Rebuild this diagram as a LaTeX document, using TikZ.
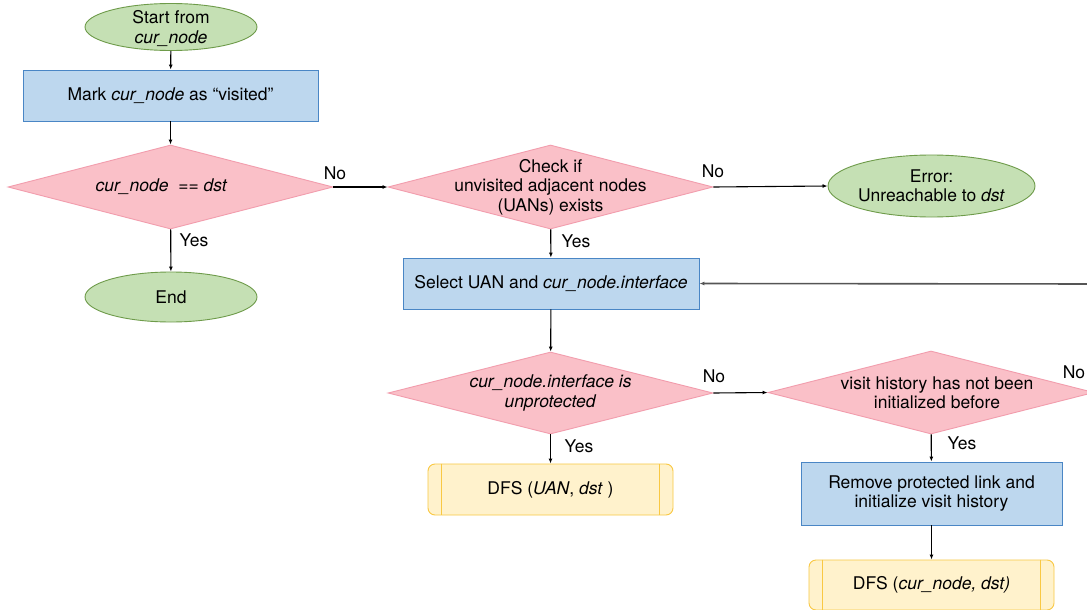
\documentclass[tikz,border=0pt]{standalone}
\usepackage{fontspec}
\setmainfont{TeX Gyre Heros}
\usetikzlibrary{shapes.geometric,arrows.meta,calc}

\definecolor{termfill}{HTML}{C5E0B4}
\definecolor{termline}{HTML}{6E9B4A}
\definecolor{procfill}{HTML}{BDD7EE}
\definecolor{procline}{HTML}{4A86C5}
\definecolor{decfill}{HTML}{FAC0C8}
\definecolor{decline}{HTML}{F29DAD}
\definecolor{subfill}{HTML}{FFF2CC}
\definecolor{subline}{HTML}{F9C843}
\definecolor{loopline}{HTML}{555555}

\tikzset{
  every node/.style={font=\fontsize{17.5}{19.5}\selectfont},
  term/.style={ellipse, draw=termline, fill=termfill, line width=0.9pt, inner sep=0pt},
  proc/.style={rectangle, draw=procline, fill=procfill, line width=0.9pt, inner sep=0pt, align=center},
  dec/.style={diamond, draw=decline, fill=decfill, line width=0.9pt, inner sep=0pt},
  subr/.style={rectangle, rounded corners=7pt, draw=subline, fill=subfill, line width=0.9pt, inner sep=0pt, align=center},
  inner/.style={align=center, inner sep=0pt},
  flow/.style={-{Latex[length=5pt,width=4pt]}, line width=1.1pt, black},
  back/.style={-{Latex[length=5pt,width=4pt]}, line width=1.6pt, loopline},
  tag/.style={inner sep=0pt},
}

\begin{document}
\begin{tikzpicture}[x=1pt, y=-1pt]
\useasboundingbox (0,0) rectangle (1087,610);
\fill[white] (0,0) rectangle (1087,610);
\clip (0,0) rectangle (1087,610);

% terminals
\node[term, minimum width=172pt, minimum height=47pt,
      label={[inner, yshift=-1.5pt]center:Start from\\\textit{cur\_node}}] (start) at (171,27) {};
\node[term, minimum width=172pt, minimum height=50pt,
      label={[inner]center:End}] (end) at (171,297) {};
\node[term, minimum width=207pt, minimum height=62pt,
      label={[inner]center:Error:\\Unreachable to \textit{dst}}] (err) at (931.5,186) {};

% processes
\node[proc, minimum width=295pt, minimum height=51pt] (mark) at (170.5,95.5)
  {Mark \textit{cur\_node} as “visited”};
\node[proc, minimum width=296pt, minimum height=51pt] (select) at (551,283.5)
  {Select UAN and \textit{cur\_node.interface}};
\node[proc, minimum width=261pt, minimum height=63pt] (remove) at (931.5,493.5)
  {Remove protected link and\\initialize visit history};

% decisions
\node[dec, minimum width=325pt, minimum height=84pt,
      label={[inner, xshift=-9pt]center:\textit{cur\_node}\ \ ==\ \textit{dst}}] (isdst) at (170.5,187) {};
\node[dec, minimum width=325pt, minimum height=84pt,
      label={[inner]center:Check if\\unvisited adjacent nodes\\(UANs) exists}] (uan) at (550.5,187) {};
\node[dec, minimum width=325pt, minimum height=82pt,
      label={[inner]center:\textit{cur\_node.interface is}\\\textit{unprotected}}] (prot) at (550.5,393) {};
\node[dec, minimum width=326pt, minimum height=83pt,
      label={[inner, xshift=6pt]center:visit history has not been\\initialized before}] (hist) at (931,392.5) {};

% subroutine calls
\node[subr, minimum width=245pt, minimum height=51pt] (dfsa) at (550.5,489.5)
  {DFS (\textit{UAN}, \textit{dst} )};
\node[subr, minimum width=245pt, minimum height=50pt] (dfsb) at (931.5,585)
  {DFS (\textit{cur\_node, dst)}};
\foreach \n in {dfsa,dfsb}{
  \draw[subline, line width=0.9pt] ($(\n.north west)+(14,0)$) -- ($(\n.south west)+(14,0)$);
  \draw[subline, line width=0.9pt] ($(\n.north east)+(-14,0)$) -- ($(\n.south east)+(-14,0)$);
}

% connectors
\draw[flow] (start) -- (mark);
\draw[flow] (mark) -- (isdst);
\draw[flow] (isdst) -- (end);
\draw[flow] (isdst.east) -- (uan.west);
\draw[flow] (uan.east) -- (err.west);
\draw[flow] (uan) -- (select);
\draw[flow] (select) -- (prot);
\draw[flow] (prot.east) -- (hist.west);
\draw[flow] (prot) -- (dfsa);
\draw[flow] (hist) -- (remove);
\draw[flow] (remove) -- (dfsb);
\coordinate (loopin) at (1100,284);
\draw[back] (loopin) -- (select.east);

% branch labels
\node[tag] (no1) at (335,173) {No};
\node[tag] (yes1) at (194,240) {Yes};
\node[tag] (no2) at (713,171) {No};
\node[tag] (yes2) at (576,241) {Yes};
\node[tag] (no3) at (714,376) {No};
\node[tag] (yes3) at (579,446) {Yes};
\node[tag] (no4) at (1074,372) {No};
\node[tag] (yes4) at (962,443) {Yes};
\end{tikzpicture}
\end{document}
